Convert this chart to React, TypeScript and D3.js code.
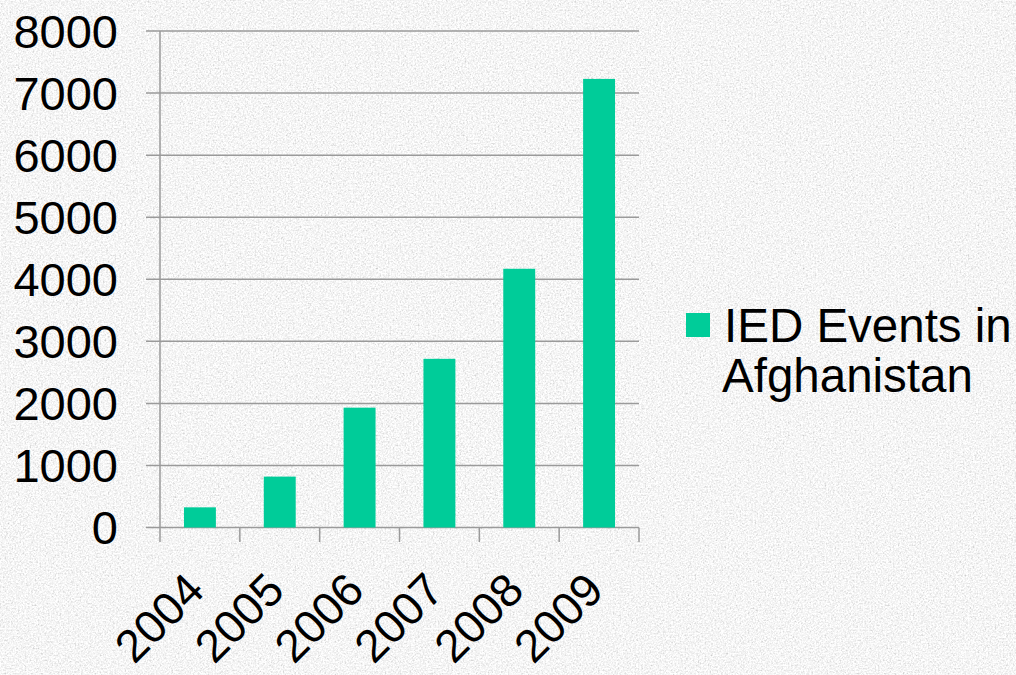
import React from "react";
import * as d3 from "d3";

const years = ["2004", "2005", "2006", "2007", "2008", "2009"];
const iedEvents = [325, 820, 1931, 2718, 4169, 7228];
const yTicks = [0, 1000, 2000, 3000, 4000, 5000, 6000, 7000, 8000];
const seriesName = ["IED Events in", "Afghanistan"];

const W = 1016;
const H = 675;
const BAR = "#00CC99";
const GRID = "#9a9a9a";
const FONT = "'Liberation Sans', Arial, sans-serif";

export default function App() {
  const left = 160, right = 639, top = 31, bottom = 527.5;
  const x = d3.scaleBand<string>().domain(years).range([left, right]).paddingInner(0.6).paddingOuter(0.3);
  const y = d3.scaleLinear().domain([0, 8000]).range([bottom, top]);
  const step = x.step();
  const bounds = d3.range(years.length + 1).map((i) => left + i * step);

  return (
    <svg width={W} height={H} style={{ position: "absolute", left: 0, top: 0 }} fontFamily={FONT}>
      <defs>
        <filter id="granite" x="0" y="0" width="100%" height="100%">
          <feTurbulence type="fractalNoise" baseFrequency="0.6" numOctaves="3" seed="7" result="n" />
          <feColorMatrix in="n" type="matrix"
            values="0.33 0.33 0.33 0 0  0.33 0.33 0.33 0 0  0.33 0.33 0.33 0 0  0 0 0 0 1" result="g" />
          <feComponentTransfer in="g">
            <feFuncR type="linear" slope="1.1" intercept="0.37" />
            <feFuncG type="linear" slope="1.1" intercept="0.37" />
            <feFuncB type="linear" slope="1.1" intercept="0.37" />
          </feComponentTransfer>
        </filter>
      </defs>
      <rect x={0} y={0} width={W} height={H} fill="#e6e6e6" />
      <rect x={0} y={0} width={W} height={H} filter="url(#granite)" />

      {/* gridlines */}
      {yTicks.map((t) => (
        <line key={"g" + t} x1={146} x2={right} y1={y(t)} y2={y(t)} stroke={GRID} strokeWidth={1.5} />
      ))}
      {/* y axis */}
      <line x1={left} x2={left} y1={top} y2={bottom} stroke={GRID} strokeWidth={1.5} />
      {/* x tick marks */}
      {bounds.map((b, i) => (
        <line key={"xt" + i} x1={b} x2={b} y1={bottom} y2={542} stroke={GRID} strokeWidth={1.5} />
      ))}
      {/* bars */}
      {years.map((yr, i) => (
        <rect key={yr} x={x(yr)} y={y(iedEvents[i])} width={x.bandwidth()} height={y(0) - y(iedEvents[i])} fill={BAR} />
      ))}
      {/* y labels */}
      {yTicks.map((t) => (
        <text key={"yl" + t} x={118} y={y(t)} dy="0.36em" textAnchor="end" fontSize={47} fill="#000">
          {t}
        </text>
      ))}
      {/* x labels */}
      {years.map((yr) => {
        const cx = (x(yr) as number) + x.bandwidth() / 2 - 16;
        const cy = 570;
        return (
          <text key={"xl" + yr} transform={`translate(${cx},${cy}) rotate(-45)`} textAnchor="end" dy="0.7em" fontSize={46} fill="#000">
            {yr}
          </text>
        );
      })}
      {/* legend */}
      <rect x={686} y={313} width={24} height={24} fill={BAR} />
      <text x={724} y={342} fontSize={47.5} fill="#000">{seriesName[0]}</text>
      <text x={722} y={392} fontSize={47.5} fill="#000">{seriesName[1]}</text>
    </svg>
  );
}
